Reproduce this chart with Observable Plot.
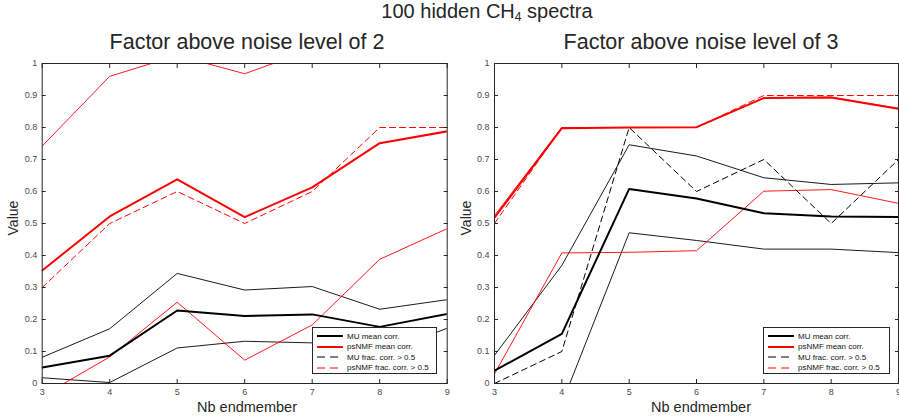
<!DOCTYPE html>
<html><head><meta charset="utf-8">
<script src="https://cdn.jsdelivr.net/npm/d3@7"></script>
<script src="https://cdn.jsdelivr.net/npm/@observablehq/plot@0.6"></script>
<style>
body{margin:0;background:#fff;}
#root{position:relative;width:899px;height:419px;font-family:"Liberation Sans",Arial,sans-serif;color:#262626;overflow:hidden;background:#fff}
.t{position:absolute;white-space:nowrap;line-height:1.15;}
.panel{position:absolute;top:55px;}
.legend{position:absolute;background:#fff;border:1px solid #262626;box-sizing:border-box;font-size:8px;font-family:"Liberation Sans",sans-serif;color:#111;padding:3px 0 0 4px;}
.legend .row{height:10.5px;display:flex;align-items:center;}
.legend svg{margin-right:3px;flex:none}
</style></head><body><div id="root"></div>
<script>
const nb = [3, 4, 5, 6, 7, 8, 9];
const yTicks = [0, 0.1, 0.2, 0.3, 0.4, 0.5, 0.6, 0.7, 0.8, 0.9, 1];
const mainTitle = "100 hidden CH";
const panelTitles = ["Factor above noise level of 2", "Factor above noise level of 3"];
const xLabel = "Nb endmember";
const yLabel = "Value";
const legendLabels = ["MU mean corr.", "psNMF mean corr.", "MU frac. corr. > 0.5", "psNMF frac. corr. > 0.5"];

// Panel 1: factor 2
const p1_muMean  = [0.050, 0.087, 0.228, 0.211, 0.216, 0.177, 0.217];
const p1_muUpper = [0.082, 0.171, 0.344, 0.292, 0.303, 0.232, 0.262];
const p1_muLower = [0.018, 0.003, 0.111, 0.132, 0.127, 0.090, 0.173];
const p1_muFrac  = [0, 0, 0, 0, 0, 0, 0];
const p1_psMean  = [0.353, 0.522, 0.638, 0.520, 0.613, 0.751, 0.788];
const p1_psUpper = [0.742, 0.960, 1.025, 0.968, 1.044, 1.060, 1.060];
const p1_psLower = [-0.039, 0.083, 0.254, 0.073, 0.183, 0.388, 0.484];
const p1_psFrac  = [0.3, 0.5, 0.6, 0.5, 0.6, 0.8, 0.8];

// Panel 2: factor 3
const p2_muMean  = [0.040, 0.155, 0.608, 0.578, 0.532, 0.522, 0.520];
const p2_muUpper = [0.088, 0.369, 0.746, 0.711, 0.643, 0.622, 0.627];
const p2_muLower = [-0.100, -0.063, 0.471, 0.447, 0.420, 0.420, 0.409];
const p2_muFrac  = [0, 0.1, 0.8, 0.6, 0.7, 0.5, 0.7];
const p2_psMean  = [0.518, 0.798, 0.800, 0.801, 0.892, 0.894, 0.858];
const p2_psUpper = [0.525, 0.800, 0.800, 0.800, 0.893, 0.895, 0.860];
const p2_psLower = [0.030, 0.408, 0.410, 0.415, 0.601, 0.606, 0.563];
const p2_psFrac  = [0.5, 0.8, 0.8, 0.8, 0.9, 0.9, 0.9];

const RED = "#ff0000", BLACK = "#000000", AX = "#262626";

function rows(vals) { return nb.map((x, i) => ({x, y: vals[i]})); }

function lineMark(vals, stroke, width, dash) {
  return Plot.line(rows(vals), {x: "x", y: "y", stroke, strokeWidth: width, strokeDasharray: dash, clip: true});
}

function panel(s, marginLeft, marginRight) {
  return Plot.plot({
    width: 449, height: 364,
    marginTop: 8, marginBottom: 36, marginLeft, marginRight,
    style: {fontFamily: "'Liberation Sans', sans-serif", overflow: "visible", background: "transparent"},
    x: {domain: [3, 9], label: null},
    y: {domain: [0, 1], label: null},
    marks: [
      lineMark(s.muUpper, BLACK, 0.9),
      lineMark(s.muLower, BLACK, 0.9),
      lineMark(s.psUpper, RED, 0.9),
      lineMark(s.psLower, RED, 0.9),
      lineMark(s.muMean, BLACK, 2),
      lineMark(s.psMean, RED, 2),
      lineMark(s.muFrac, BLACK, 1, "6,4"),
      lineMark(s.psFrac, RED, 1, "6,4"),
      Plot.frame({stroke: AX, strokeWidth: 1}),
      Plot.axisX(nb, {anchor: "bottom", tickSize: -4, tickPadding: 9, fontSize: 9, fill: "#4a4a4a", stroke: AX, tickFormat: d => String(d)}),
      Plot.axisX(nb, {anchor: "top", tickSize: -4, stroke: AX, tickFormat: () => ""}),
      Plot.axisY(yTicks, {anchor: "left", tickSize: -4, tickPadding: 9, fontSize: 9, fill: "#4a4a4a", stroke: AX, tickFormat: d => String(d)}),
      Plot.axisY(yTicks, {anchor: "right", tickSize: -4, stroke: AX, tickFormat: () => ""})
    ]
  });
}

const root = document.getElementById("root");
function addText(html, css) {
  const d = document.createElement("div");
  d.className = "t"; d.innerHTML = html; Object.assign(d.style, css); root.appendChild(d); return d;
}

addText(mainTitle + "<sub style='font-size:12px;vertical-align:-3px;line-height:0'>4</sub> spectra", {left: "287px", width: "400px", textAlign: "center", top: "0px", fontSize: "20px", lineHeight: "23px"});
addText(panelTitles[0], {left: "47px", width: "400px", textAlign: "center", top: "30px", fontSize: "21.5px"});
addText(panelTitles[1], {left: "501px", width: "400px", textAlign: "center", top: "30px", fontSize: "21.5px"});

const s1 = {muMean: p1_muMean, muUpper: p1_muUpper, muLower: p1_muLower, muFrac: p1_muFrac, psMean: p1_psMean, psUpper: p1_psUpper, psLower: p1_psLower, psFrac: p1_psFrac};
const s2 = {muMean: p2_muMean, muUpper: p2_muUpper, muLower: p2_muLower, muFrac: p2_muFrac, psMean: p2_psMean, psUpper: p2_psUpper, psLower: p2_psLower, psFrac: p2_psFrac};

const c1 = document.createElement("div"); c1.className = "panel"; c1.style.left = "0px"; c1.appendChild(panel(s1, 41.7, 2.3)); root.appendChild(c1);
const c2 = document.createElement("div"); c2.className = "panel"; c2.style.left = "450px"; c2.appendChild(panel(s2, 44, 1)); root.appendChild(c2);

addText(xLabel, {left: "147px", width: "200px", textAlign: "center", top: "399px", fontSize: "14.5px"});
addText(xLabel, {left: "601px", width: "200px", textAlign: "center", top: "399px", fontSize: "14.5px"});
addText(yLabel, {left: "-4px", top: "210px", fontSize: "14px", transform: "rotate(-90deg)"});
addText(yLabel, {left: "449px", top: "210px", fontSize: "14px", transform: "rotate(-90deg)"});

const legendStyles = [[BLACK, 2, null], [RED, 2, null], [BLACK, 1, "8,5"], [RED, 1, "8,5"]];
function legend(left, width) {
  const d = document.createElement("div");
  d.className = "legend";
  Object.assign(d.style, {left: left + "px", top: "327px", width: width + "px", height: "47px"});
  legendLabels.forEach((lab, i) => {
    const [c, w, dash] = legendStyles[i];
    d.insertAdjacentHTML("beforeend",
      `<div class="row"><svg width="27" height="6"><line x1="0" y1="3" x2="26" y2="3" stroke="${c}" stroke-width="${w}" ${dash ? `stroke-dasharray="${dash}"` : ""}/></svg><span>${lab}</span></div>`);
  });
  root.appendChild(d);
}
legend(312, 125);
legend(763, 127);
</script></body></html>
